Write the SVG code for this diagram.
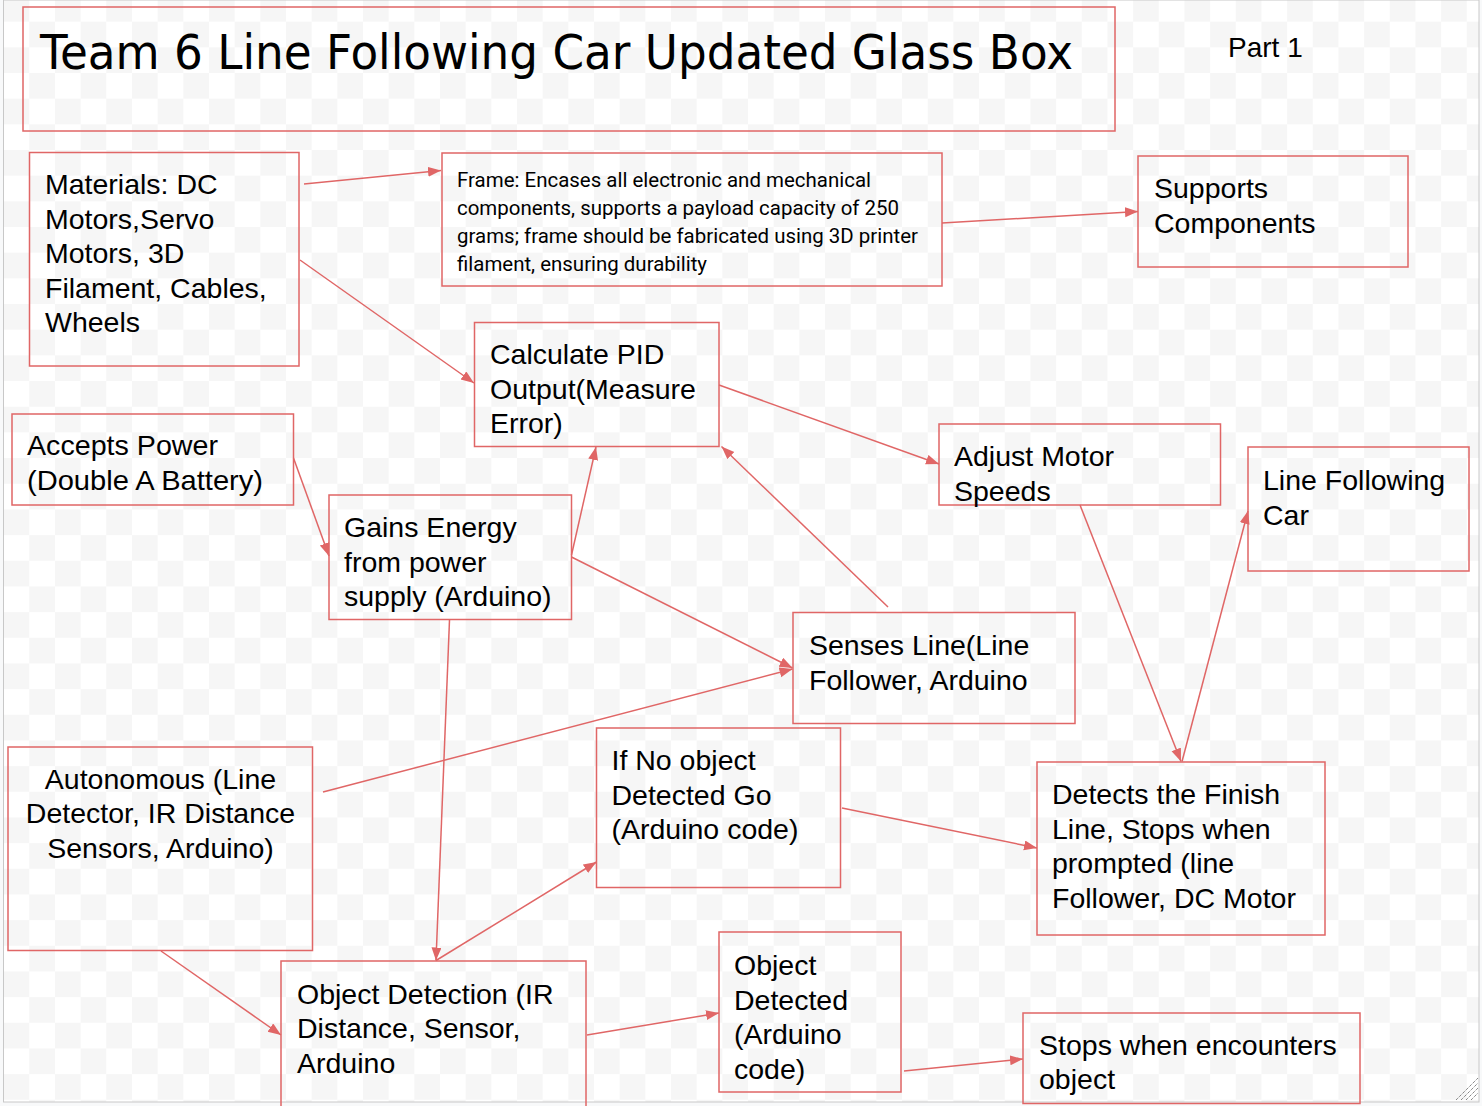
<svg xmlns="http://www.w3.org/2000/svg" width="1482" height="1106" viewBox="0 0 1482 1106">
<defs>
<pattern id="chk" patternUnits="userSpaceOnUse" x="3.6" y="-4" width="51.34" height="51.34">
<rect width="51.34" height="51.34" fill="#ffffff"/>
<rect width="25.67" height="25.67" fill="#f6f6f6"/>
<rect x="25.67" y="25.67" width="25.67" height="25.67" fill="#f6f6f6"/>
</pattern>
<marker id="ah" markerUnits="userSpaceOnUse" markerWidth="14" markerHeight="12" refX="13" refY="5" orient="auto">
<path d="M0,0 L13,5 L0,10 z" fill="#e06666"/>
</marker>
<style>
.box{fill:none;stroke:#e06666;stroke-width:1.5}
.t{font-family:"Liberation Sans",Arial,sans-serif;font-size:28.5px;fill:#000}
.f{font-family:Roboto,"Liberation Sans",sans-serif;font-size:19.5px;fill:#000}
.c{fill:none;stroke:#e06666;stroke-width:1.5;marker-end:url(#ah)}
</style>
</defs>
<rect width="1482" height="1106" fill="#f8f9fa"/>
<rect x="3.5" y="0" width="1475.5" height="1102" fill="url(#chk)" stroke="#c8c8c8" stroke-width="1"/>
<g stroke="#555" stroke-width="1" stroke-dasharray="1 1">
<line x1="1456" y1="1100" x2="1478" y2="1078"/>
<line x1="1461" y1="1100" x2="1478" y2="1083"/>
<line x1="1466" y1="1100" x2="1478" y2="1088"/>
<line x1="1471" y1="1100" x2="1478" y2="1093"/>
</g>

<g id="title">
<rect class="box" x="23" y="7" width="1092" height="124"/>
<text x="40" y="69" font-family="'DejaVu Sans',sans-serif" font-size="48" textLength="1033" lengthAdjust="spacingAndGlyphs" fill="#000">Team 6 Line Following Car Updated Glass Box</text>
</g>
<g id="part1">
<text x="1228" y="56.5" font-family="'Liberation Sans',Arial,sans-serif" font-size="28" fill="#000">Part 1</text>
</g>

<g id="connectors">
<line class="c" x1="304" y1="184" x2="441" y2="170.5"/>
<line class="c" x1="300" y1="260" x2="474" y2="383"/>
<line class="c" x1="942" y1="223" x2="1138" y2="211.5"/>
<line class="c" x1="719" y1="385" x2="939" y2="464"/>
<line class="c" x1="293.5" y1="458" x2="329" y2="556"/>
<line class="c" x1="571.5" y1="555" x2="596" y2="447"/>
<line class="c" x1="571.5" y1="557" x2="792.5" y2="668"/>
<line class="c" x1="888" y1="607" x2="721.5" y2="446.5"/>
<line class="c" x1="1080" y1="505" x2="1181" y2="761.5"/>
<line class="c" x1="1182" y1="761.5" x2="1248" y2="511"/>
<line class="c" x1="323" y1="792" x2="792.5" y2="669"/>
<line class="c" x1="449.5" y1="620" x2="436" y2="960.5"/>
<line class="c" x1="436" y1="960.5" x2="596.5" y2="862"/>
<line class="c" x1="161" y1="951" x2="281" y2="1035"/>
<line class="c" x1="842" y1="808" x2="1037" y2="848"/>
<line class="c" x1="587" y1="1035" x2="719" y2="1013"/>
<line class="c" x1="904" y1="1071" x2="1023" y2="1059"/>
</g>

<g id="materials">
<rect class="box" x="29.5" y="152.5" width="269.5" height="213.5"/>
<text class="t" x="45" y="194">Materials: DC</text>
<text class="t" x="45" y="228.5">Motors,Servo</text>
<text class="t" x="45" y="263">Motors, 3D</text>
<text class="t" x="45" y="297.5">Filament, Cables,</text>
<text class="t" x="45" y="332">Wheels</text>
</g>

<g id="frame">
<rect class="box" x="442" y="153" width="500" height="133"/>
<text class="f" x="457" y="187" textLength="414" lengthAdjust="spacingAndGlyphs">Frame: Encases all electronic and mechanical</text>
<text class="f" x="457" y="215" textLength="442" lengthAdjust="spacingAndGlyphs">components, supports a payload capacity of 250</text>
<text class="f" x="457" y="243" textLength="461" lengthAdjust="spacingAndGlyphs">grams; frame should be fabricated using 3D printer</text>
<text class="f" x="457" y="271" textLength="250" lengthAdjust="spacingAndGlyphs">filament, ensuring durability</text>
</g>

<g id="supports">
<rect class="box" x="1138" y="156" width="270" height="111"/>
<text class="t" x="1154" y="198">Supports</text>
<text class="t" x="1154" y="232.5">Components</text>
</g>

<g id="pid">
<rect class="box" x="474.5" y="322.5" width="244.5" height="124"/>
<text class="t" x="490" y="364">Calculate PID</text>
<text class="t" x="490" y="398.5">Output(Measure</text>
<text class="t" x="490" y="433">Error)</text>
</g>

<g id="power">
<rect class="box" x="12" y="414" width="281.5" height="91"/>
<text class="t" x="27" y="455" textLength="191" lengthAdjust="spacingAndGlyphs">Accepts Power</text>
<text class="t" x="27" y="489.5" textLength="236" lengthAdjust="spacingAndGlyphs">(Double A Battery)</text>
</g>

<g id="gains">
<rect class="box" x="329" y="495" width="242.5" height="124.5"/>
<text class="t" x="344" y="537">Gains Energy</text>
<text class="t" x="344" y="571.5">from power</text>
<text class="t" x="344" y="606">supply (Arduino)</text>
</g>

<g id="adjust">
<rect class="box" x="939" y="424" width="281.5" height="81"/>
<text class="t" x="954" y="466">Adjust Motor</text>
<text class="t" x="954" y="500.5">Speeds</text>
</g>

<g id="car">
<rect class="box" x="1248" y="447" width="221" height="124"/>
<text class="t" x="1263" y="490">Line Following</text>
<text class="t" x="1263" y="524.5">Car</text>
</g>

<g id="senses">
<rect class="box" x="793" y="612.5" width="282" height="111"/>
<text class="t" x="809" y="655">Senses Line(Line</text>
<text class="t" x="809" y="689.5">Follower, Arduino</text>
</g>

<g id="autonomous">
<rect class="box" x="8" y="747" width="304.5" height="203.5"/>
<text class="t" x="160.5" y="788.5" text-anchor="middle">Autonomous (Line</text>
<text class="t" x="160.5" y="823" text-anchor="middle">Detector, IR Distance</text>
<text class="t" x="160.5" y="857.5" text-anchor="middle">Sensors, Arduino)</text>
</g>

<g id="noobject">
<rect class="box" x="596.5" y="728" width="244" height="159.5"/>
<text class="t" x="611.5" y="770">If No object</text>
<text class="t" x="611.5" y="804.5">Detected Go</text>
<text class="t" x="611.5" y="839">(Arduino code)</text>
</g>

<g id="finish">
<rect class="box" x="1037" y="762" width="288" height="173"/>
<text class="t" x="1052" y="804">Detects the Finish</text>
<text class="t" x="1052" y="838.5">Line, Stops when</text>
<text class="t" x="1052" y="873">prompted (line</text>
<text class="t" x="1052" y="907.5">Follower, DC Motor</text>
</g>

<g id="objdetection">
<rect class="box" x="281" y="961" width="305" height="160"/>
<text class="t" x="297" y="1003.5">Object Detection (IR</text>
<text class="t" x="297" y="1038">Distance, Sensor,</text>
<text class="t" x="297" y="1072.5">Arduino</text>
</g>

<g id="objdetected">
<rect class="box" x="719" y="932" width="182" height="160"/>
<text class="t" x="734" y="975">Object</text>
<text class="t" x="734" y="1009.5">Detected</text>
<text class="t" x="734" y="1044">(Arduino</text>
<text class="t" x="734" y="1078.5">code)</text>
</g>

<g id="stops">
<rect class="box" x="1023" y="1013" width="337" height="90.5"/>
<text class="t" x="1039" y="1055">Stops when encounters</text>
<text class="t" x="1039" y="1089">object</text>
</g>
</svg>
